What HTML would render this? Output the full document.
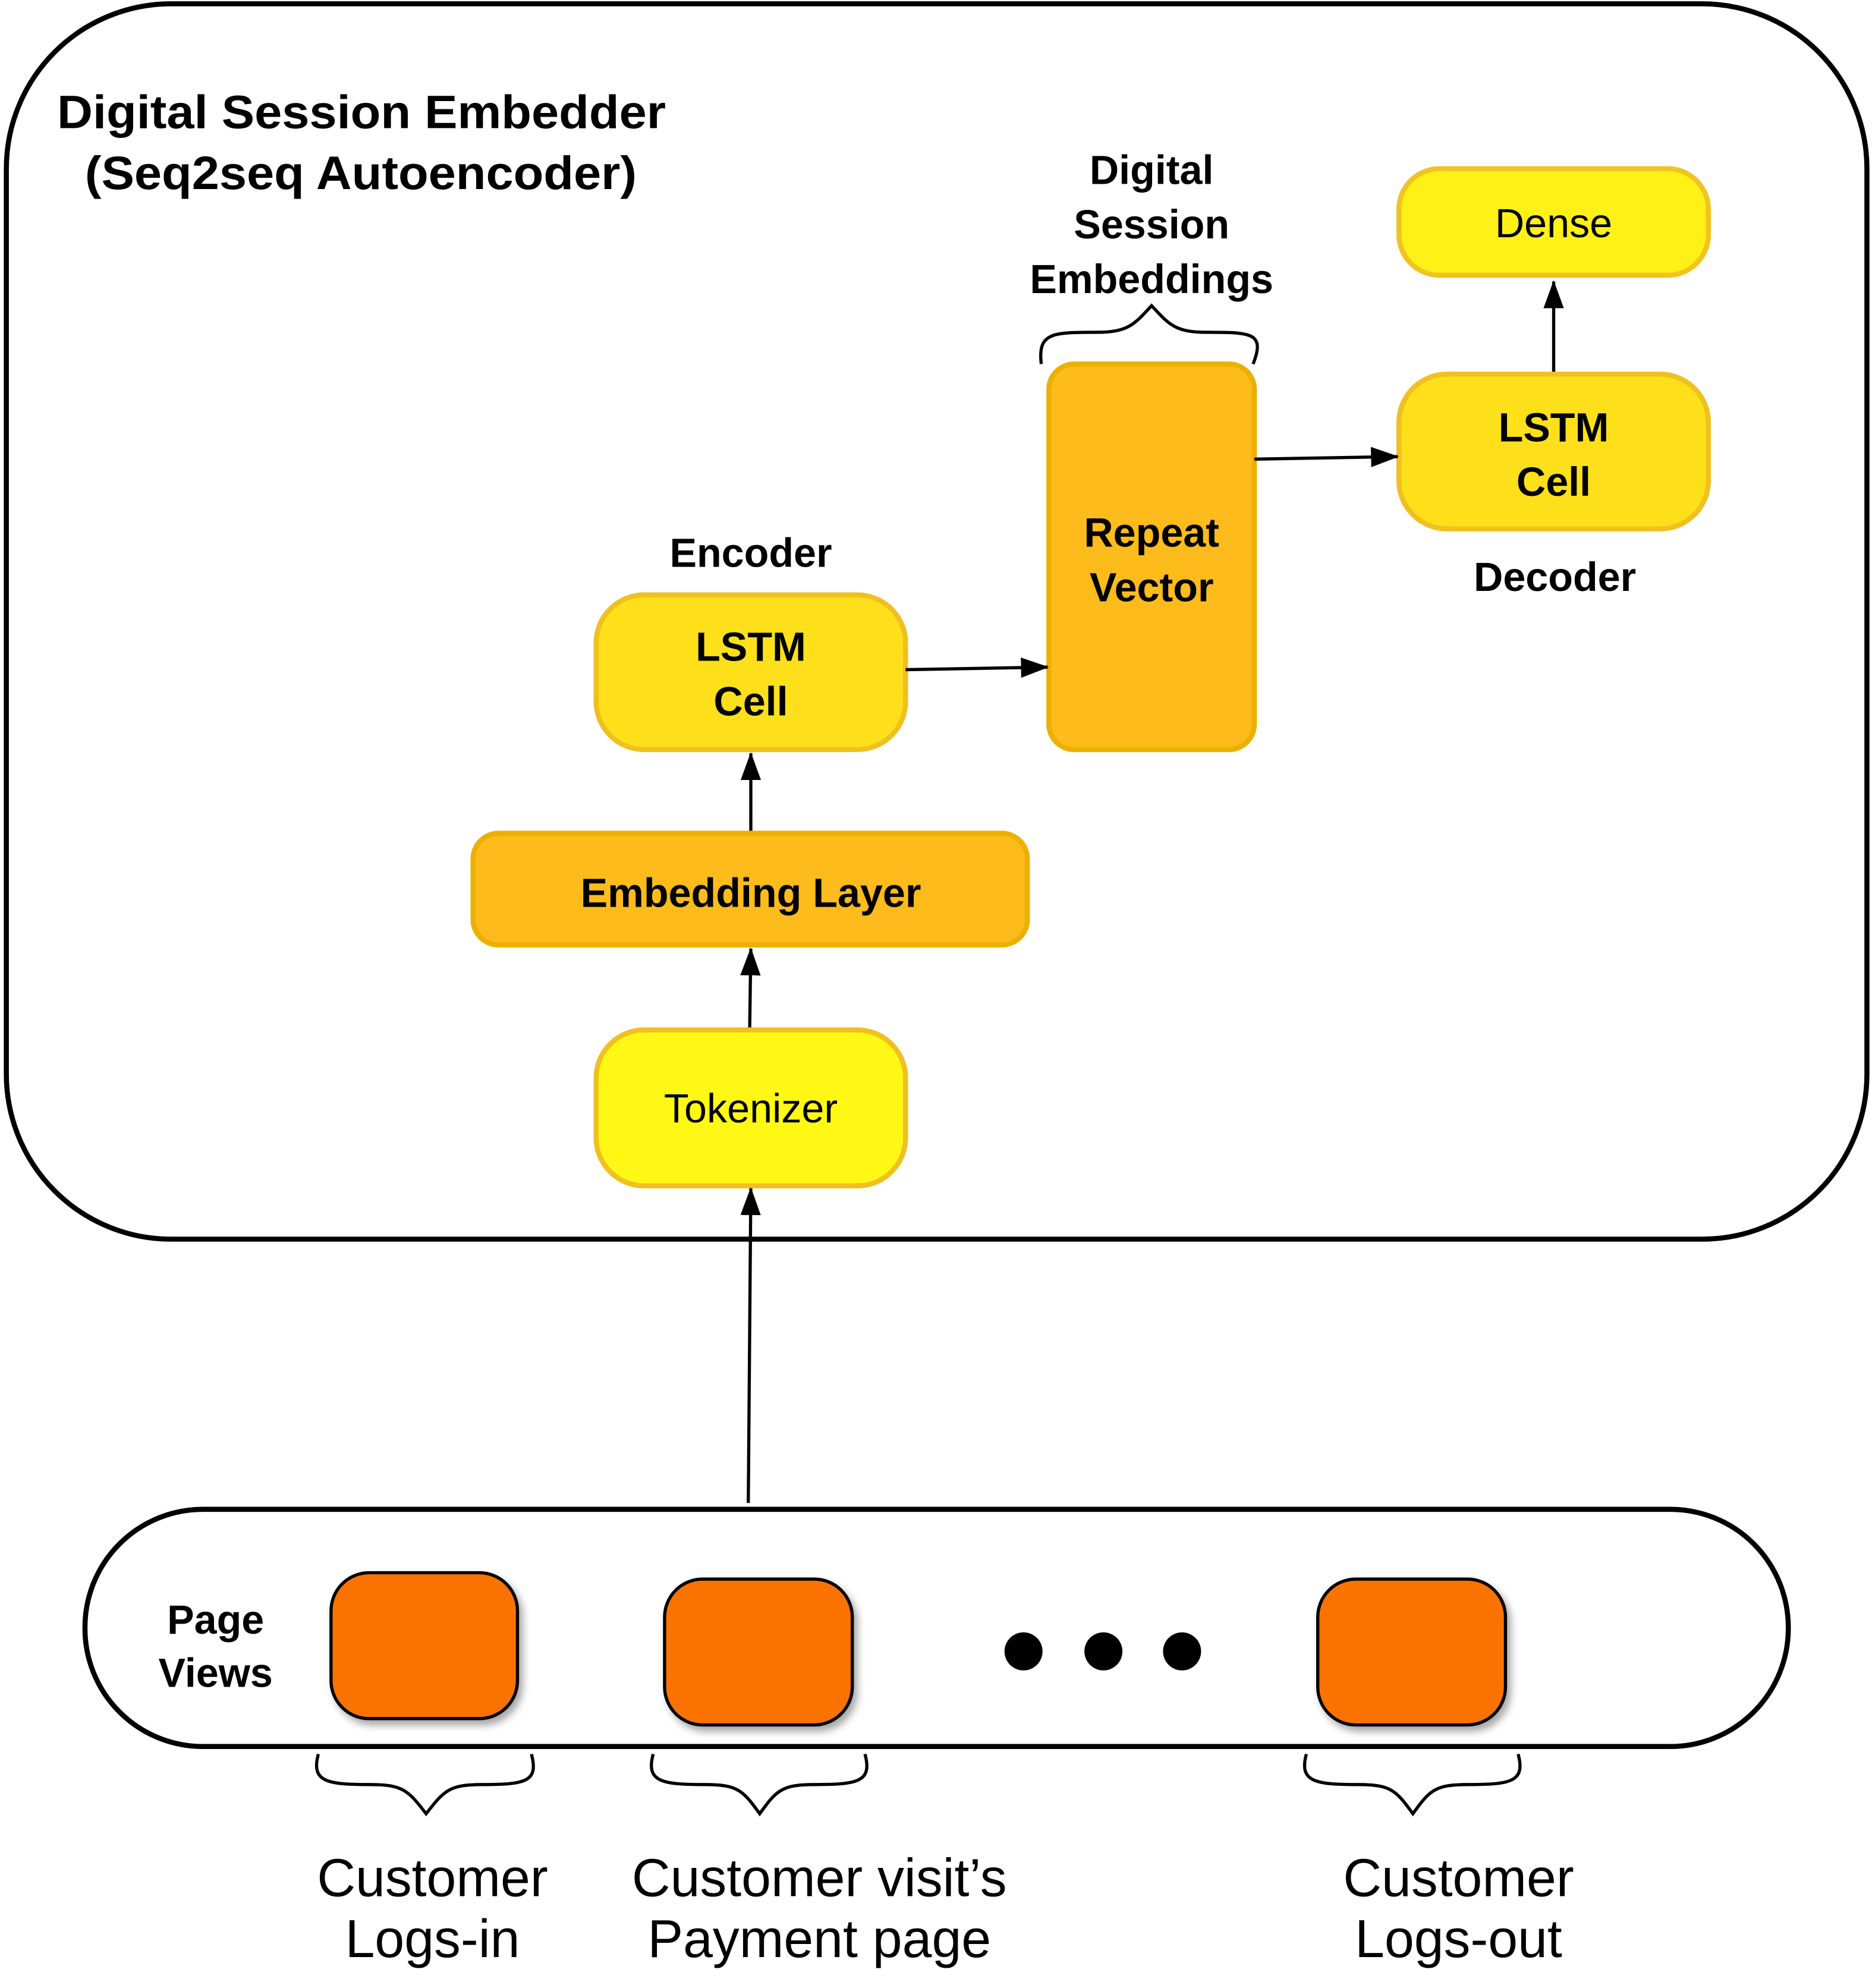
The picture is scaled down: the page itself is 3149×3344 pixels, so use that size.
<!DOCTYPE html>
<html><head><meta charset="utf-8"><style>
html,body{margin:0;padding:0;background:#fff;}
svg{display:block;}
text{font-family:"Liberation Sans",Arial,sans-serif;fill:#000;}
.b{font-weight:bold;}
</style></head><body>
<svg width="3149" height="3344" viewBox="0 0 1476 1567.4" xmlns="http://www.w3.org/2000/svg">
<defs>
<marker id="ah2" markerWidth="22" markerHeight="20" refX="21" refY="10" orient="auto" markerUnits="userSpaceOnUse">
<path d="M0,2 L22,10 L0,18 z" fill="#000"/>
</marker>
<filter id="sh" x="-20%" y="-20%" width="150%" height="150%">
<feDropShadow dx="3" dy="4" stdDeviation="3" flood-color="#000" flood-opacity="0.35"/>
</filter>
</defs>

<rect x="5" y="3" width="1467" height="974" rx="130" fill="#fff" stroke="#000" stroke-width="4"/>
<text class="b" x="45" y="101" font-size="37" textLength="480" lengthAdjust="spacingAndGlyphs">Digital Session Embedder</text>
<text class="b" x="67" y="149" font-size="37" textLength="435" lengthAdjust="spacingAndGlyphs">(Seq2seq Autoencoder)</text>

<text class="b" x="908" y="145" font-size="32" text-anchor="middle">Digital</text>
<text class="b" x="908" y="188" font-size="32" text-anchor="middle">Session</text>
<text class="b" x="908" y="231" font-size="32" text-anchor="middle">Embeddings</text>
<path d="M821,287 C818,262 830,262 865,262 C890,262 895,255 908,241 C921,255 926,262 951,262 C986,262 998,262 988,287" fill="none" stroke="#000" stroke-width="2.5"/>

<rect x="1103" y="133" width="244" height="84" rx="32" fill="#FFF015" stroke="#F0C420" stroke-width="4"/>
<text x="1225" y="187" font-size="32" text-anchor="middle">Dense</text>
<line x1="1225" y1="295" x2="1225" y2="222" stroke="#000" stroke-width="2.5" marker-end="url(#ah2)"/>

<rect x="1103" y="295" width="244" height="122" rx="38" fill="#FDE01A" stroke="#F0C020" stroke-width="4"/>
<text class="b" x="1225" y="348" font-size="32" text-anchor="middle">LSTM</text>
<text class="b" x="1225" y="391" font-size="32" text-anchor="middle">Cell</text>
<text class="b" x="1226" y="466" font-size="32" text-anchor="middle">Decoder</text>

<rect x="827" y="287" width="162" height="304" rx="20" fill="#FDBB1C" stroke="#EBB000" stroke-width="4"/>
<text class="b" x="908" y="431" font-size="32" text-anchor="middle">Repeat</text>
<text class="b" x="908" y="474" font-size="32" text-anchor="middle">Vector</text>
<line x1="989" y1="362" x2="1102" y2="360" stroke="#000" stroke-width="2.5" marker-end="url(#ah2)"/>

<text class="b" x="592" y="447" font-size="32" text-anchor="middle">Encoder</text>
<rect x="470" y="469" width="244" height="122" rx="38" fill="#FDE01A" stroke="#F0C020" stroke-width="4"/>
<text class="b" x="592" y="521" font-size="32" text-anchor="middle">LSTM</text>
<text class="b" x="592" y="564" font-size="32" text-anchor="middle">Cell</text>
<line x1="714" y1="528" x2="826" y2="526" stroke="#000" stroke-width="2.5" marker-end="url(#ah2)"/>

<line x1="592" y1="657" x2="592" y2="594" stroke="#000" stroke-width="2.5" marker-end="url(#ah2)"/>
<rect x="373" y="657" width="437" height="88" rx="20" fill="#FDBB1C" stroke="#EBB000" stroke-width="4"/>
<text class="b" x="592" y="715" font-size="32" text-anchor="middle">Embedding Layer</text>
<line x1="591" y1="818" x2="592" y2="748" stroke="#000" stroke-width="2.5" marker-end="url(#ah2)"/>

<rect x="470" y="812" width="244" height="123" rx="38" fill="#FFF815" stroke="#F0C020" stroke-width="4"/>
<text x="592" y="885" font-size="32" text-anchor="middle">Tokenizer</text>
<line x1="590" y1="1185" x2="592" y2="937" stroke="#000" stroke-width="2.5" marker-end="url(#ah2)"/>

<rect x="67" y="1190" width="1343" height="187" rx="93" fill="#fff" stroke="#000" stroke-width="4"/>
<text class="b" x="170" y="1288" font-size="32" text-anchor="middle">Page</text>
<text class="b" x="170" y="1330" font-size="32" text-anchor="middle">Views</text>

<rect x="261" y="1240" width="147" height="115" rx="30" fill="#FA7305" stroke="#000" stroke-width="2.5" filter="url(#sh)"/>
<rect x="524" y="1245" width="148" height="115" rx="30" fill="#FA7305" stroke="#000" stroke-width="2.5" filter="url(#sh)"/>
<rect x="1039" y="1245" width="148" height="115" rx="30" fill="#FA7305" stroke="#000" stroke-width="2.5" filter="url(#sh)"/>
<circle cx="807" cy="1302" r="15" fill="#000"/>
<circle cx="870" cy="1302" r="15" fill="#000"/>
<circle cx="932" cy="1302" r="15" fill="#000"/>

<g fill="none" stroke="#000" stroke-width="2.5">
<path d="M251,1383 C245,1405 258,1407 292,1407 C318,1407 322,1412 336,1430 C350,1412 354,1407 380,1407 C414,1407 425,1405 419,1383"/>
<path d="M515,1383 C509,1405 522,1407 556,1407 C582,1407 586,1412 599,1430 C612,1412 616,1407 642,1407 C676,1407 688,1405 682,1383"/>
<path d="M1030,1383 C1024,1405 1037,1407 1071,1407 C1097,1407 1101,1412 1114,1430 C1127,1412 1131,1407 1157,1407 C1191,1407 1203,1405 1197,1383"/>
</g>

<text x="341" y="1495" font-size="42" text-anchor="middle">Customer</text>
<text x="341" y="1543" font-size="42" text-anchor="middle">Logs-in</text>
<text x="646" y="1495" font-size="42" text-anchor="middle">Customer visit’s</text>
<text x="646" y="1543" font-size="42" text-anchor="middle">Payment page</text>
<text x="1150" y="1495" font-size="42" text-anchor="middle">Customer</text>
<text x="1150" y="1543" font-size="42" text-anchor="middle">Logs-out</text>
</svg>
</body></html>
